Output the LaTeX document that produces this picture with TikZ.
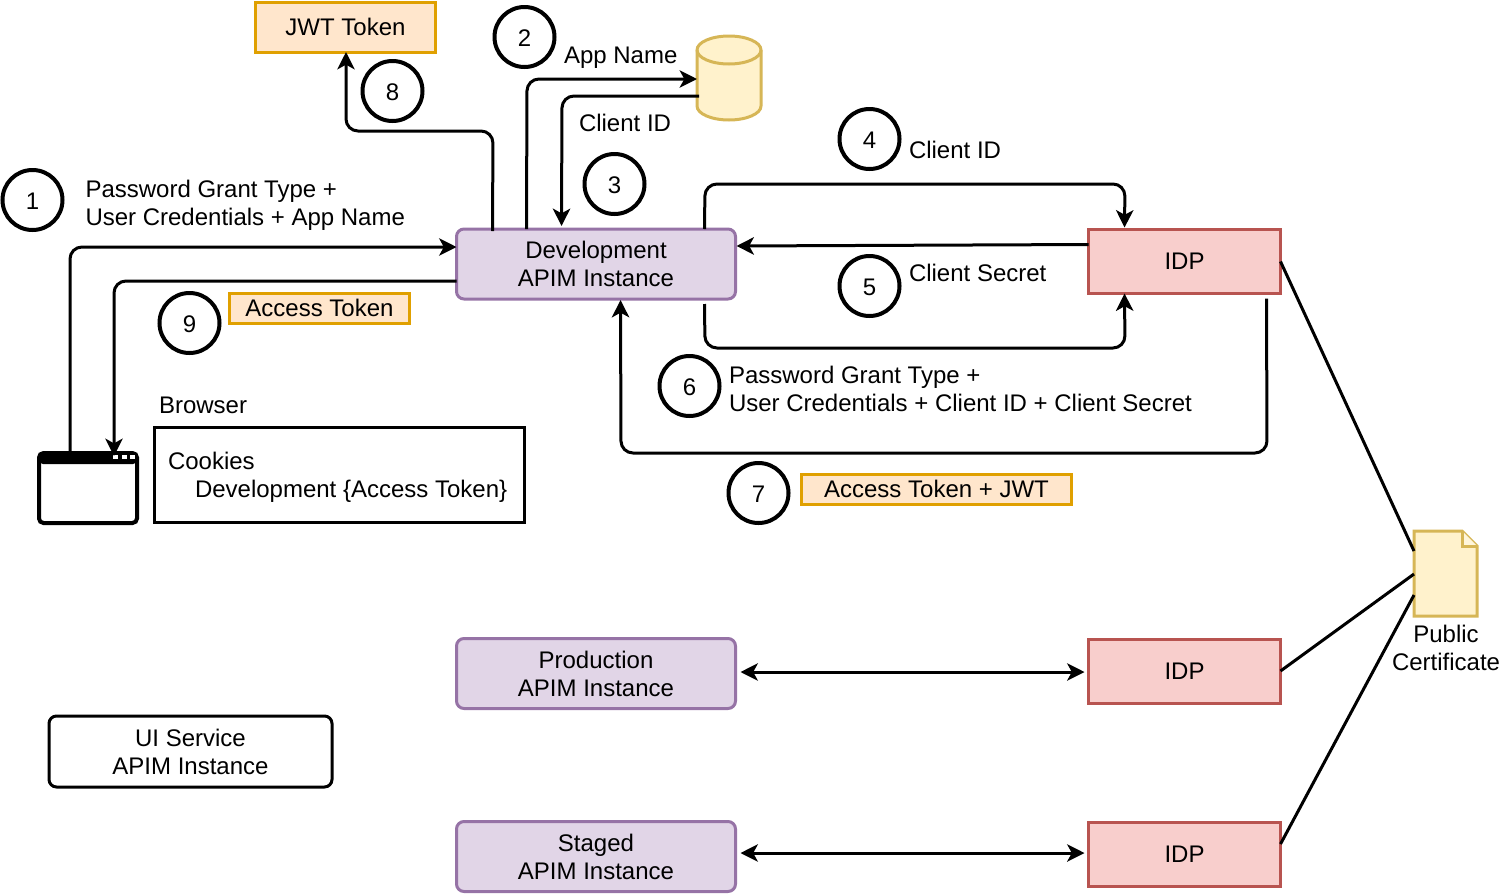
\documentclass[tikz,border=0pt]{standalone}
\usepackage{fontspec}
\setmainfont{Liberation Sans}
\usetikzlibrary{arrows.meta,calc}
\def\px{0.75pt}
\definecolor{pfill}{HTML}{E1D5E7}\definecolor{pline}{HTML}{9673A6}
\definecolor{rfill}{HTML}{F8CECC}\definecolor{rline}{HTML}{B85450}
\definecolor{ofill}{HTML}{FFE6CC}\definecolor{oline}{HTML}{E0A000}
\definecolor{yfill}{HTML}{FFF2CC}\definecolor{yline}{HTML}{D6B656}
\tikzset{
  x=0.75pt,y=-0.75pt,
  every node/.style={font=\fontsize{18}{21}\selectfont,inner sep=0pt,outer sep=0pt,align=center},
  lw/.style={line width=2.25pt},
  apim/.style={lw,draw=pline,fill=pfill,rounded corners=7.5*\px,minimum width=279*\px,minimum height=70*\px},
  idpbox/.style={lw,draw=rline,fill=rfill,minimum width=192*\px,minimum height=64*\px},
  uibox/.style={lw,draw=black,fill=white,rounded corners=7.5*\px,minimum width=283*\px,minimum height=71*\px},
  tok/.style={lw,draw=oline,fill=ofill},
  num/.style={circle,line width=3pt,draw=black,fill=white,minimum size=60*\px,text height=14.4pt,text depth=0pt},
  lab/.style={align=left,anchor=west},
  conn/.style={lw,draw=black,rounded corners=12*\px},
  arr/.style={conn,-{Stealth[length=13pt,width=13pt,inset=3.5pt]}},
  darr/.style={conn,{Stealth[length=13pt,width=13pt,inset=3.5pt]}-{Stealth[length=13pt,width=13pt,inset=3.5pt]}},
}
\begin{document}
\begin{tikzpicture}
\useasboundingbox (0,0) rectangle (1502,893);
% boxes
\node[apim] (dev) at (596,264) {Development\\APIM Instance};
\node[idpbox] (idpa) at (1184.5,261.5) {IDP};
\node[apim] (prod) at (596,673.5) {Production\\APIM Instance};
\node[idpbox] (idpb) at (1184.5,671) {IDP};
\node[apim] (stag) at (596,856.5) {Staged\\APIM Instance};
\node[idpbox] (idpc) at (1184.5,854) {IDP};
\node[uibox] (ui) at (190.5,751.5) {UI Service\\APIM Instance};
\node[tok,minimum width=180*\px,minimum height=50*\px] (jwt) at (345.5,27) {JWT Token};
\node[tok,minimum width=180*\px,minimum height=30*\px] (at) at (319.5,308) {Access Token};
\node[tok,minimum width=270*\px,minimum height=30*\px] (atj) at (936.5,489) {Access Token + JWT};
% numbered circles
\node[num] (n1) at (32.5,200) {1};
\node[num] (n2) at (524.5,37) {2};
\node[num] (n3) at (614.5,184) {3};
\node[num] (n4) at (869.5,139) {4};
\node[num] (n5) at (869.5,286) {5};
\node[num] (n6) at (689.5,386) {6};
\node[num] (n7) at (758.5,493) {7};
\node[num] (n8) at (392.5,91) {8};
\node[num] (n9) at (189.5,323) {9};
% labels
\node[lab] (l1) at (85.5,205) {Password Grant Type +\\User Credentials + App Name};
\node[lab] (l2) at (564,58) {App Name};
\node[lab] (l3) at (579,123) {Client ID};
\node[lab] (l4) at (909,150) {Client ID};
\node[lab] (l5) at (909,273) {Client Secret};
\node[lab] (l6) at (729,389) {Password Grant Type +\\User Credentials + Client ID + Client Secret};
\node[lab] (l7) at (159,405) {Browser};
% cookies
\node[lw,draw=black,fill=white,minimum width=370*\px,minimum height=95*\px] (ck) at (339,474.5) {};
\node[lab] (l8) at (168,477) {Cookies\\\hspace*{20.25pt}Development \{Access Token\}};
% database
\node[minimum width=64*\px,minimum height=84*\px] (db) at (729,78) {};
\draw[lw,draw=yline,fill=yfill] (db.north west) ++(0,14) -- ($(db.south west)+(0,-14)$)
  arc[start angle=180,end angle=360,x radius=24pt,y radius=10.5pt]
  -- ($(db.north east)+(0,14)$)
  arc[start angle=0,end angle=180,x radius=24pt,y radius=10.5pt] -- cycle;
\draw[lw,draw=yline] ($(db.north east)+(0,14)$)
  arc[start angle=360,end angle=180,x radius=24pt,y radius=10.5pt];
% document
\node[minimum width=63*\px,minimum height=85*\px] (doc) at (1445.5,573.5) {};
\draw[lw,draw=yline,fill=yfill] (doc.north west) -- ($(doc.north east)+(-15,0)$)
  -- ($(doc.north east)+(0,15)$) -- (doc.south east) -- (doc.south west) -- cycle;
\draw[lw,draw=yline,fill=yfill!70!white] ($(doc.north east)+(-15,0)$) -- ($(doc.north east)+(-15,15)$) -- ($(doc.north east)+(0,15)$);
\node (l9) at (1446,648) {Public\\Certificate};
% browser window icon
\node[minimum width=98*\px,minimum height=70*\px] (win) at (88,488) {};
\draw[draw=black,fill=white,rounded corners=4.5*\px,line width=3pt] (win.north west) rectangle (win.south east);
\fill[black,rounded corners=3pt] (win.north west) rectangle ($(win.north east)+(0,11)$);
\foreach \k in {2,10,19}{\fill[white] ($(win.north east)+(-\k-5,2)$) rectangle ($(win.north east)+(-\k,6)$);}
% connectors
\draw[arr] (win.north -| 70,0) -- (70,247) -- ($(dev.north west)+(0,18)$);
\draw[arr] ($(dev.south west)+(0,-18)$) -- (114,281) -- (114,456);
\draw[arr] ($(dev.north west)+(36,2)$) -- (493,131) -- (346,131) -- (jwt.south -| 346,0);
\draw[arr] ($(dev.north west)+(70,0)$) -- (527,79) -- ($(db.north west)+(0,43)$);
\draw[arr] ($(db.north west)+(2,60)$) -- (562,96) -- ($(dev.north west)+(105,-3)$);
\draw[arr] ($(dev.north east)+(-31,0)$) -- (705,184) -- (1125,184) -- ($(idpa.north west)+(36,-2)$);
\draw[arr] ($(idpa.north west)+(0,15)$) -- ($(dev.north east)+(1,17)$);
\draw[arr] ($(dev.south east)+(-31,5)$) -- (705,348) -- (1125,348) -- ($(idpa.south west)+(36,0)$);
\draw[arr] ($(idpa.south east)+(-14,5)$) -- (1267,453) -- (621,453) -- ($(dev.south west)+(164,1)$);
\draw[lw] (idpa.east) -- ($(doc.north west)+(0,20)$);
\draw[lw] (idpb.east) -- ($(doc.north west)+(0,43)$);
\draw[lw] ($(idpc.north east)+(0,22)$) -- ($(doc.north west)+(0,64)$);
\draw[darr] ($(prod.east)+(5,-1.5)$) -- ($(idpb.west)+(-4,1)$);
\draw[darr] ($(stag.east)+(5,-3.5)$) -- ($(idpc.west)+(-4,-1)$);
\end{tikzpicture}
\end{document}
